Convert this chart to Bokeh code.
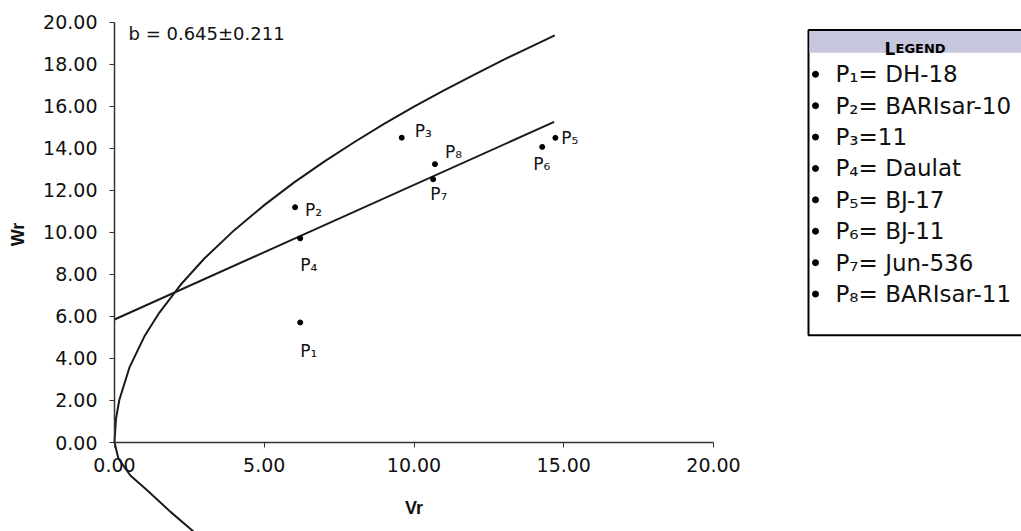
import math
from bokeh.plotting import figure
from bokeh.models import Range1d, FixedTicker, NumeralTickFormatter, Label, ColumnDataSource
from bokeh.layouts import row
from bokeh.core.properties import value
from bokeh.embed import file_html
from bokeh.resources import INLINE

# ---- data ----
point_names = ["P\u2081", "P\u2082", "P\u2083", "P\u2084", "P\u2085", "P\u2086", "P\u2087", "P\u2088"]
genotypes = ["DH-18", "BARIsar-10", "11", "Daulat", "BJ-17", "BJ-11", "Jun-536", "BARIsar-11"]
vr_values = [6.20, 6.03, 9.59, 6.20, 14.72, 14.28, 10.64, 10.70]
wr_values = [5.71, 11.19, 14.50, 9.71, 14.49, 14.06, 12.52, 13.24]

# limiting parabola
parabola_vr = [2.80, 2.53, 1.87, 1.10, 0.53, 0.13, 0.00, 0.05, 0.16, 0.50, 1.00, 1.50, 2.20, 3.00,
               4.00, 5.00, 6.00, 7.00, 8.00, 9.00, 10.00, 11.00, 12.00, 13.00, 14.00, 14.70]
parabola_wr = [-4.45, -4.10, -3.30, -2.28, -1.57, -0.76, 0.00, 1.13, 2.02, 3.57, 5.05, 6.18, 7.49, 8.75,
               10.10, 11.29, 12.37, 13.36, 14.28, 15.15, 15.97, 16.75, 17.49, 18.21, 18.89, 19.36]

# regression line
regression_vr = [0.0, 14.68]
regression_wr = [5.85, 15.25]

b_text = "b = 0.645\u00b10.211"
x_ticks = [0, 5, 10, 15, 20]
y_ticks = [0, 2, 4, 6, 8, 10, 12, 14, 16, 18, 20]

# label placement (pixels) for point labels
label_dx = [0, 10, 13, 0, 6, -9, -3, 10]
label_dy = [29, 3, -7, 27, 0, 17, 15, -12]

# ---- main plot ----
px_x = 29.95      # pixels per Vr unit
px_y = 21.025     # pixels per Wr unit
ORIGIN_X = 114    # pixel of Vr = 0
ORIGIN_Y = 442    # pixel of Wr = 0
W, H, TOP = 800, 531, 10

p = figure(width=W, height=H, output_backend="svg", toolbar_location=None,
           x_range=Range1d(-ORIGIN_X / px_x, (W - ORIGIN_X) / px_x),
           y_range=Range1d(-(H - ORIGIN_Y) / px_y, (ORIGIN_Y - TOP) / px_y),
           min_border_left=0, min_border_right=0, min_border_top=TOP, min_border_bottom=0)
p.grid.visible = False
p.outline_line_color = None
p.background_fill_color = "white"
p.border_fill_color = "white"

for ax, ticks, standoff in ((p.xaxis[0], x_ticks, 10), (p.yaxis[0], y_ticks, 12)):
    ax.fixed_location = 0
    ax.bounds = (0, 20)
    ax.ticker = FixedTicker(ticks=ticks)
    ax.formatter = NumeralTickFormatter(format="0.00")
    ax.minor_tick_line_color = None
    ax.major_tick_out = 5
    ax.major_tick_in = 0
    ax.major_label_standoff = standoff
    ax.major_label_text_font = "DejaVu Sans"
    ax.major_label_text_font_size = "19px"
    ax.major_label_text_color = "#111111"
    ax.axis_line_color = "#333333"
    ax.axis_line_width = 1.5
    ax.major_tick_line_color = "#333333"

p.line(parabola_vr, parabola_wr, line_color="#1a1a1a", line_width=2)
p.line(regression_vr, regression_wr, line_color="#1a1a1a", line_width=2)

src = ColumnDataSource(dict(vr=vr_values, wr=wr_values, name=point_names, dx=label_dx, dy=label_dy))
p.scatter("vr", "wr", source=src, size=5, color="black")
p.text("vr", "wr", text="name", source=src, x_offset="dx", y_offset="dy",
       text_font=value("DejaVu Sans"), text_font_size="17px", text_align="left",
       text_baseline="middle", text_color="#111111")

p.add_layout(Label(x=10, y=-65 / px_y, text="Vr", text_font="Liberation Sans", text_font_style="bold",
                   text_font_size="18px", text_align="center", text_baseline="middle",
                   text_color="#111111"))
p.add_layout(Label(x=(17 - ORIGIN_X) / px_x, y=(ORIGIN_Y - 234) / px_y, text="Wr", angle=math.pi / 2,
                   text_font="Liberation Sans", text_font_style="bold", text_font_size="18px",
                   text_align="center", text_baseline="middle", text_color="#111111"))
p.add_layout(Label(x=14 / px_x, y=(ORIGIN_Y - 33) / px_y, text=b_text, text_font="DejaVu Sans",
                   text_font_size="18px", text_align="left", text_baseline="middle",
                   text_color="#111111"))

# ---- legend panel ----
lg = figure(width=221, height=531, output_backend="svg", toolbar_location=None,
            x_range=Range1d(0, 221), y_range=Range1d(531, 0),
            x_axis_type=None, y_axis_type=None,
            min_border_left=0, min_border_right=0, min_border_top=0, min_border_bottom=0)
lg.grid.visible = False
lg.outline_line_color = None

lg.quad(left=[8], right=[260], top=[20], bottom=[331], fill_color="white",
        line_color="black", line_width=2)
lg.quad(left=[9], right=[260], top=[21], bottom=[43], fill_color="#c6c6dc", line_color=None)
lg.text(x=[84], y=[39], text=["L"], text_font=value("DejaVu Sans"), text_font_style="bold",
        text_font_size="17px", text_baseline="alphabetic", text_color="black")
lg.text(x=[95], y=[39], text=["EGEND"], text_font=value("DejaVu Sans"), text_font_style="bold",
        text_font_size="13px", text_baseline="alphabetic", text_color="black")

first_row = 65
row_step = 32
legend_texts = [f"{n}={'' if g == '11' else ' '}{g}" for n, g in zip(point_names, genotypes)]
row_y = [first_row + i * row_step for i in range(len(genotypes))]
lsrc = ColumnDataSource(dict(y=row_y, t=legend_texts, bx=[15] * len(row_y), tx=[35] * len(row_y)))
lg.scatter("bx", "y", source=lsrc, size=6, color="black")
lg.text("tx", "y", text="t", source=lsrc, text_font=value("DejaVu Sans"), text_font_size="23px",
        text_baseline="middle", text_align="left", text_color="#111111")

layout = row(p, lg, spacing=0)
open("out.html", "w").write(file_html(layout, INLINE))
